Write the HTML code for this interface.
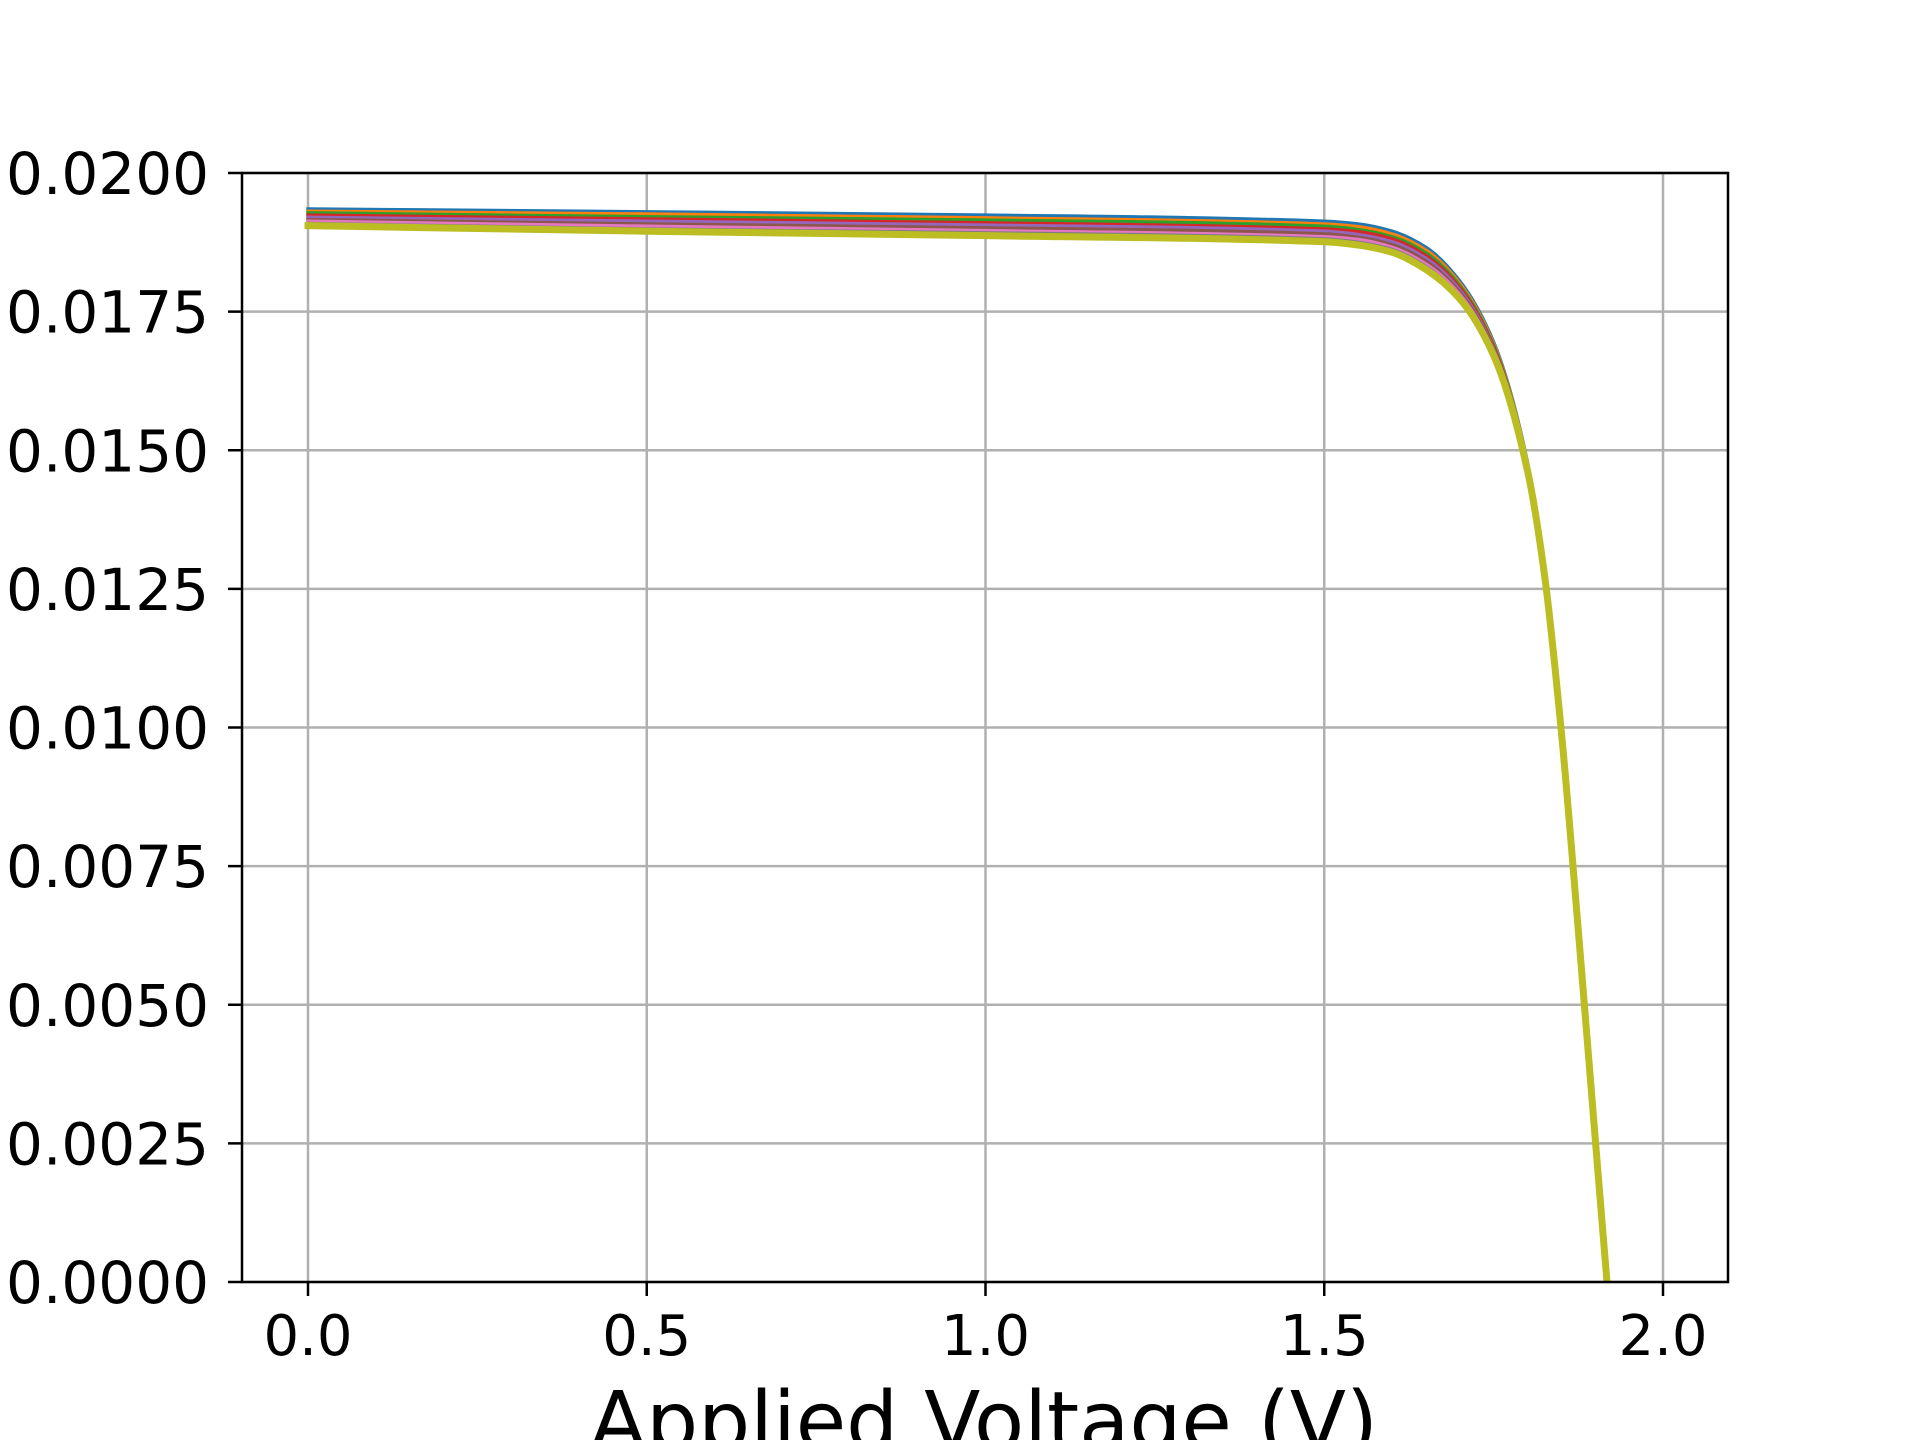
<!DOCTYPE html>
<html><head><meta charset="utf-8"><style>
html,body{margin:0;padding:0;background:#fff}
svg{display:block}
text{font-family:"DejaVu Sans","Liberation Sans",sans-serif;fill:#000}
</style></head><body>
<svg id="chart" width="1920" height="1440" viewBox="0 0 1920 1440" xmlns="http://www.w3.org/2000/svg">
<rect width="1920" height="1440" fill="#fff"/>
<defs><clipPath id="plotclip"><rect x="242" y="173" width="1486" height="1109"/></clipPath></defs>
<g id="grid"></g>
<g id="series" clip-path="url(#plotclip)"></g>
<rect x="242" y="173" width="1486" height="1109" fill="none" stroke="#000" stroke-width="2.5"/>
<g id="axes"></g>
<text x="984" y="1450" font-size="82" text-anchor="middle">Applied Voltage (V)</text>
</svg>
<script>
const xTicks = [0.0, 0.5, 1.0, 1.5, 2.0];
const xTickLabels = ["0.0", "0.5", "1.0", "1.5", "2.0"];
const yTicks = [0, 0.0025, 0.005, 0.0075, 0.01, 0.0125, 0.015, 0.0175, 0.02];
const yTickLabels = ["0.0000","0.0025","0.0050","0.0075","0.0100","0.0125","0.0150","0.0175","0.0200"];
const voltages = [0, 0.5, 1.0, 1.5, 1.55, 1.6, 1.65, 1.7, 1.75, 1.8, 1.825, 1.85, 1.875, 1.9, 1.92];
const seriesColors = ["#1f77b4","#ff7f0e","#2ca02c","#d62728","#9467bd","#8c564b","#e377c2","#7f7f7f","#bcbd22"];
const current0 = [0.01935,0.01930,0.01924,0.01913,0.01908,0.01895,0.01866,0.01805,0.01695,0.01478,0.01288,0.01000,0.00640,0.00262,-0.00040];
const current1 = [0.01931,0.01926,0.01919,0.01908,0.01903,0.01890,0.01861,0.01801,0.01692,0.01476,0.01287,0.00999,0.00639,0.00262,-0.00040];
const current2 = [0.01928,0.01921,0.01915,0.01904,0.01898,0.01885,0.01856,0.01797,0.01689,0.01474,0.01285,0.00998,0.00638,0.00261,-0.00040];
const current3 = [0.01924,0.01917,0.01910,0.01899,0.01894,0.01881,0.01851,0.01793,0.01686,0.01472,0.01284,0.00997,0.00638,0.00261,-0.00040];
const current4 = [0.01920,0.01913,0.01906,0.01895,0.01889,0.01876,0.01846,0.01789,0.01683,0.01470,0.01282,0.00996,0.00637,0.00260,-0.00040];
const current5 = [0.01916,0.01908,0.01901,0.01890,0.01884,0.01871,0.01841,0.01785,0.01680,0.01469,0.01281,0.00995,0.00636,0.00260,-0.00040];
const current6 = [0.01913,0.01904,0.01896,0.01885,0.01880,0.01866,0.01836,0.01781,0.01677,0.01467,0.01279,0.00994,0.00636,0.00259,-0.00040];
const current7 = [0.01909,0.01899,0.01892,0.01881,0.01875,0.01862,0.01831,0.01777,0.01674,0.01465,0.01278,0.00993,0.00635,0.00259,-0.00040];
const current8 = [0.01905,0.01895,0.01887,0.01876,0.01870,0.01857,0.01826,0.01773,0.01671,0.01463,0.01276,0.00992,0.00634,0.00258,-0.00040];
const allSeries = [current0,current1,current2,current3,current4,current5,current6,current7,current8];

const NS = "http://www.w3.org/2000/svg";
const X0 = 308, XPER = 677.5;
const Y0 = 1282, YPER = 1109 / 0.02;
function xs(v){ return X0 + v * XPER; }
function ys(i){ return Y0 - i * YPER; }
function mk(tag, attrs, parent){ const e = document.createElementNS(NS, tag); for (const k in attrs) e.setAttribute(k, attrs[k]); parent.appendChild(e); return e; }

const grid = document.getElementById('grid');
const axes = document.getElementById('axes');
xTicks.forEach((t, i) => {
  const x = xs(t);
  const g = mk('line', {x1:x, x2:x, y1:173, y2:Y0, stroke:'#b0b0b0', 'stroke-width':2.5}, grid);
  
  
  const tk = mk('line', {x1:x, x2:x, y1:Y0, y2:Y0 + 14, stroke:'#000', 'stroke-width':2.5}, axes);
  
  
  const tx = mk('text', {x:x, y:1355, 'font-size':56, 'text-anchor':'middle'}, axes);
  tx.textContent = xTickLabels[i];
  
  
});
yTicks.forEach((t, i) => {
  const y = ys(t);
  const g = mk('line', {x1:242, x2:1728, y1:y, y2:y, stroke:'#b0b0b0', 'stroke-width':2.5}, grid);
  
  
  const tk = mk('line', {x1:228, x2:242, y1:y, y2:y, stroke:'#000', 'stroke-width':2.5}, axes);
  
  
  const tx = mk('text', {x:209, y:y + 21, 'font-size':58, 'text-anchor':'end'}, axes);
  tx.textContent = yTickLabels[i];
  
  
});

function monotonePath(pts){
  const n = pts.length, d = [], m = [];
  for (let i = 0; i < n - 1; i++) d.push((pts[i+1][1] - pts[i][1]) / (pts[i+1][0] - pts[i][0]));
  m[0] = d[0]; m[n-1] = d[n-2];
  for (let i = 1; i < n - 1; i++) {
    if (d[i-1] * d[i] <= 0) m[i] = 0;
    else {
      const h0 = pts[i][0] - pts[i-1][0], h1 = pts[i+1][0] - pts[i][0];
      const w1 = 2*h1 + h0, w2 = h1 + 2*h0;
      m[i] = (w1 + w2) / (w1 / d[i-1] + w2 / d[i]);
    }
  }
  let s = 'M' + pts[0][0] + ',' + pts[0][1];
  for (let i = 0; i < n - 1; i++) {
    const h = (pts[i+1][0] - pts[i][0]) / 3;
    s += ' C' + (pts[i][0] + h) + ',' + (pts[i][1] + m[i]*h) + ' ' + (pts[i+1][0] - h) + ',' + (pts[i+1][1] - m[i+1]*h) + ' ' + pts[i+1][0] + ',' + pts[i+1][1];
  }
  return s;
}
const sg = document.getElementById('series');
allSeries.forEach((cur, s) => {
  const pts = voltages.map((v, i) => [xs(v), ys(cur[i])]);
  const p = mk('path', {d: monotonePath(pts), fill:'none', stroke: seriesColors[s], 'stroke-width': s === allSeries.length - 1 ? 7 : 3.5, 'stroke-linejoin':'round', 'stroke-linecap':'square'}, sg);
  
  
});
</script>
</body></html>
